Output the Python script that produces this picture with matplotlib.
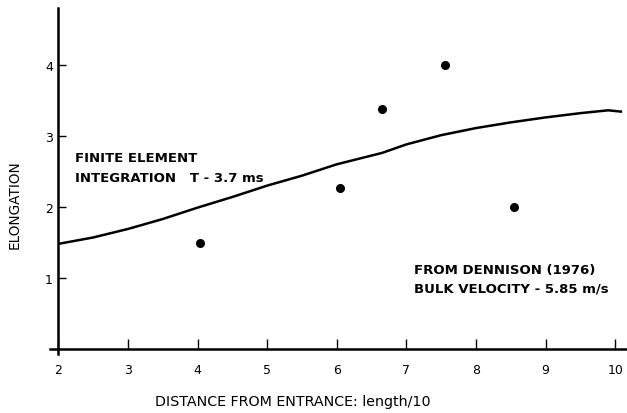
import matplotlib
matplotlib.use("Agg")
import matplotlib.pyplot as plt

# Data
curve_x = [2.0, 2.5, 3.0, 3.5, 4.0, 4.5, 5.0, 5.5, 6.0, 6.65, 7.0, 7.5, 8.0, 8.5, 9.0, 9.5, 9.9, 10.1]
curve_y = [1.48, 1.57, 1.69, 1.83, 1.99, 2.14, 2.30, 2.44, 2.60, 2.76, 2.88, 3.01, 3.11, 3.19, 3.26, 3.32, 3.36, 3.34]
pts_x = [4.04, 6.04, 6.65, 7.56, 8.55]
pts_y = [1.49, 2.27, 3.38, 4.0, 2.0]
xticks = [2, 3, 4, 5, 6, 7, 8, 9, 10]
yticks = [1, 2, 3, 4]

plt.rcParams['font.family'] = ['DejaVu Sans']

fig = plt.figure(figsize=(6.27, 4.14), dpi=100)
ax = fig.add_axes([50/627, 59/414, 577/627, 346/414])
ax.set_xlim(1.88, 10.17)
ax.set_ylim(-0.07, 4.8)

ax.plot(curve_x, curve_y, color='black', lw=1.8, solid_capstyle='butt')
ax.plot(pts_x, pts_y, 'o', color='black', ms=5.5)

for s in ['top', 'right']:
    ax.spines[s].set_visible(False)
ax.spines['left'].set_position(('data', 2))
ax.spines['bottom'].set_position(('data', 0))
ax.spines['left'].set_linewidth(1.8)
ax.spines['bottom'].set_linewidth(1.8)

ax.set_xticks(xticks)
ax.set_xticklabels([str(t) for t in xticks])
ax.set_yticks(yticks)
ax.set_yticklabels([str(t) for t in yticks])
ax.tick_params(axis='x', direction='in', length=7, width=1, pad=10, labelsize=9)
ax.tick_params(axis='y', direction='in', length=6, width=1, pad=4, labelsize=9)

ax.set_ylabel('ELONGATION', fontsize=9.8, va='center')
ax.yaxis.set_label_coords(-0.061, 0.434)
ax.set_xlabel('DISTANCE FROM ENTRANCE: length/10', fontsize=10.3, va='center')
ax.xaxis.set_label_coords(0.421, -0.136)

ax.text(2.24, 2.69, 'FINITE ELEMENT', fontsize=9.5, fontweight='bold', va='center')
ax.text(2.24, 2.41, 'INTEGRATION   T - 3.7 ms', fontsize=9.5, fontweight='bold', va='center')
ax.text(7.11, 1.12, 'FROM DENNISON (1976)', fontsize=9.5, fontweight='bold', va='center')
ax.text(7.11, 0.86, 'BULK VELOCITY - 5.85 m/s', fontsize=9.5, fontweight='bold', va='center')

fig.savefig('out.png', dpi=100)
